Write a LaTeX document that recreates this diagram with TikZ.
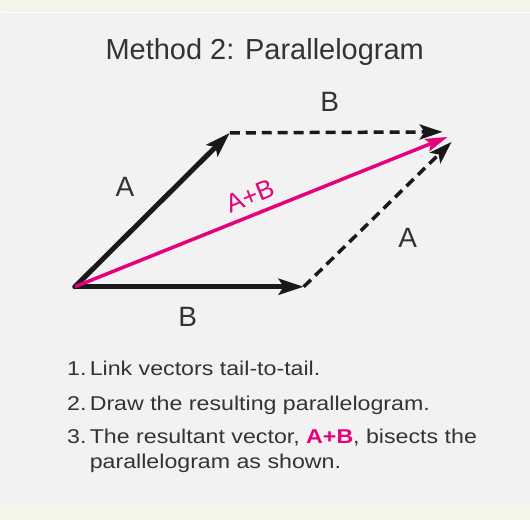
\documentclass[tikz,border=0pt]{standalone}
\usepackage{fontspec}
\setmainfont{Liberation Sans}
\newfontfamily\stepfont[FakeStretch=1.16]{Liberation Sans}
\usetikzlibrary{arrows.meta,positioning,calc}
\definecolor{outerbg}{HTML}{F3F6E8}
\definecolor{panelbg}{HTML}{F2F2F2}
\definecolor{inkgray}{HTML}{333333}
\definecolor{sumpink}{HTML}{E6007E}

\begin{document}
\begin{tikzpicture}[x=1pt, y=-1pt,
  vec/.style={-{Stealth[length=25pt, width=16pt, inset=5pt]}, line width=5pt, black!90, line cap=round},
  dvec/.style={-{Stealth[length=23pt, width=15pt, inset=5pt]}, line width=3.5pt, dash pattern=on 10pt off 6pt, black!90},
  svec/.style={-{Stealth[length=22pt, width=13pt, inset=4pt]}, line width=3.5pt, sumpink},
  lbl/.style={font=\fontsize{28}{30}\selectfont, text=inkgray, inner sep=0pt},
  stepline/.style={anchor=base west, inner sep=0pt, text=inkgray, align=left, font=\stepfont\fontsize{20}{25}\selectfont}
]
  % background and panel
  \fill[outerbg] (0,0) rectangle (530,520);
  \fill[panelbg] (1,12) rectangle (530,506);
  \draw[white, line width=1pt] (1,12.5) -- (530,12.5);
  \useasboundingbox (0,0) rectangle (530,520);

  \node[lbl, anchor=base, font=\fontsize{29}{31}\selectfont] (title) at (265,60) {Method 2: Parallelogram};

  % corners of the parallelogram
  \coordinate (O) at (75,287);
  \coordinate (Atip) at (230,133);
  \coordinate (Btip) at (304,287);
  \coordinate (Ctop) at (443,132);
  \coordinate (Csum) at (448,137);
  \coordinate (Cside) at (452,142);

  \draw[dvec] (Atip) -- (Ctop);
  \draw[dvec] (Btip) -- (Cside);
  \draw[vec] (O) -- (Atip);
  \draw[vec] (O) -- (Btip);
  \draw[svec] (O) -- node[pos=0.49, sloped, above=8pt, inner sep=0pt, text=sumpink, font=\fontsize{26}{28}\selectfont] (sumlbl) {A+B} (Csum);

  \node[lbl] (lblBtop) at (330,102) {B};
  \node[lbl] (lblAleft) at (125,187) {A};
  \node[lbl] (lblAright) at (408,238) {A};
  \node[lbl] (lblBbot) at (188,317) {B};

  % steps
  \node[stepline] (step1) at (67,376) {1.\,Link vectors tail-to-tail.};
  \node[stepline] (step2) at (67,411) {2.\,Draw the resulting parallelogram.};
  \node[stepline] (step3) at (67,443.5) {\begin{tabular}[t]{@{}l@{\,}l@{}}3. & The resultant vector, \textcolor{sumpink}{\textbf{A+B}}, bisects the\\ & parallelogram as shown.\end{tabular}};
\end{tikzpicture}
\end{document}
